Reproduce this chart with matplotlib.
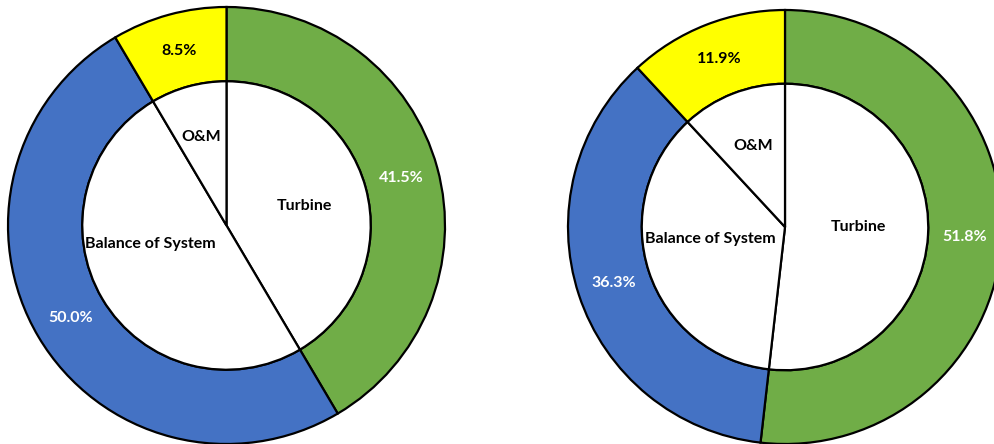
import numpy as np
import matplotlib
matplotlib.use("Agg")
import matplotlib.pyplot as plt

categories = ["Turbine", "Balance of System", "O&M"]
left_share = [41.5, 50.0, 8.5]
right_share = [51.8, 36.3, 11.9]
colors = ["#70AD47", "#4472C4", "#FFFF00"]
pct_colors = ["white", "white", "black"]

W, H = 994, 444
fig = plt.figure(figsize=(W / 100, H / 100), dpi=100)

# inner label placement (radius, angle shift in degrees) per category
inner_pos = {
    "left": [(0.37, -1.0), (0.36, -17.0), (0.42, 1.0)],
    "right": [(0.34, 3.0), (0.35, -9.0), (0.40, 0.0)],
}


def donut(cx, cy, r, values, key):
    ax = fig.add_axes([(cx - r) / W, (H - cy - r) / H, 2 * r / W, 2 * r / H])
    hole = 0.66
    ax.pie(values, colors=colors, startangle=90, counterclock=False, radius=1.0,
           wedgeprops=dict(width=1 - hole, edgecolor="black", linewidth=1.6))
    ax.pie(values, colors=["white"] * 3, startangle=90, counterclock=False, radius=hole,
           wedgeprops=dict(edgecolor="black", linewidth=1.6))
    ax.set_xlim(-1, 1)
    ax.set_ylim(-1, 1)
    ax.set_aspect("equal")
    ax.axis("off")
    cum = np.cumsum([0] + list(values))
    for i, v in enumerate(values):
        mid = np.deg2rad(90 - (cum[i] + v / 2) * 3.6)
        rr = 0.83
        ax.text(rr * np.cos(mid), rr * np.sin(mid), f"{v:.1f}%", ha="center", va="center",
                color=pct_colors[i], fontsize=11.5, fontweight="bold", family="Lato")
        lr, shift = inner_pos[key][i]
        a = mid + np.deg2rad(shift)
        ax.text(lr * np.cos(a), lr * np.sin(a), categories[i], ha="center", va="center",
                color="black", fontsize=11.5, fontweight="bold", family="Lato")
    for p in ax.patches:
        p.set_clip_on(False)


donut(226.5, 225.5, 218.5, left_share, "left")
donut(785, 227, 217, right_share, "right")

fig.savefig("out.png", dpi=100, facecolor="white")
